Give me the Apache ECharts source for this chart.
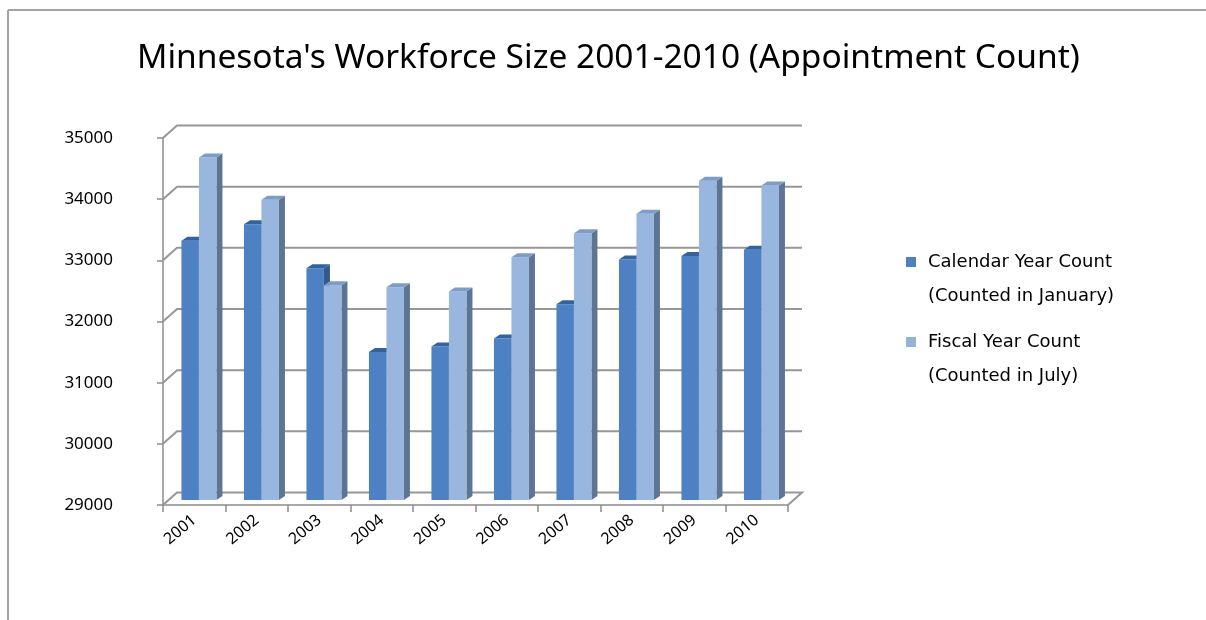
<!DOCTYPE html>
<html lang="en">
<head>
  <meta charset="UTF-8">
  <title>Minnesota's Workforce Size</title>
  <style>
    html, body { margin: 0; padding: 0; background: #fff; }
    #chart { width: 1206px; height: 620px; }
  </style>
</head>
<body>
  <div id="chart"></div>
  <script src="https://cdn.jsdelivr.net/npm/echarts@6/dist/echarts.min.js"></script>
  <script>
    var years = ['2001', '2002', '2003', '2004', '2005', '2006', '2007', '2008', '2009', '2010'];
    var calendarCounts = [33240, 33510, 32790, 31420, 31510, 31640, 32200, 32930, 32990, 33090];
    var fiscalCounts = [34600, 33910, 32510, 32480, 32410, 32970, 33360, 33680, 34220, 34140];
    var yTicks = [29000, 30000, 31000, 32000, 33000, 34000, 35000];

    var calName = 'Calendar Year Count\n(Counted in January)';
    var fisName = 'Fiscal Year Count\n(Counted in July)';
    var font = 'Noto Sans';

    var yMin = 29000;
    // wall offset (back wall vs front axis) and bar depth
    var wallDx = 14, wallDy = -12.5;
    var barDx = 6, barDy = -4, lift = 5;

    function wallItem(params, api) {
      var cs = params.coordSys;
      var v = api.value(1);
      var y = api.coord([0, v])[1];
      var xL = cs.x, xR = cs.x + cs.width;
      var pts = [[xL, y], [xL + wallDx, y + wallDy], [xR + wallDx, y + wallDy]];
      if (v === yMin) pts.push([xR, y]);
      return {
        type: 'polyline',
        shape: { points: pts },
        style: { stroke: '#979797', lineWidth: 2, fill: null }
      };
    }

    function makeBar(slot, front, side, topc) {
      return function (params, api) {
        var cat = api.value(0), v = api.value(1);
        var pTop = api.coord([cat, v]);
        var pBase = api.coord([cat, yMin]);
        var band = api.size([1, 0])[0];
        var w = band * 0.28;
        var x0 = pTop[0] - band * 0.205 + slot * w;
        var yT = pTop[1] - lift, yB = pBase[1] - lift;
        return {
          type: 'group',
          children: [
            { type: 'polygon', shape: { points: [[x0 + w, yT], [x0 + w + barDx, yT + barDy], [x0 + w + barDx, yB + barDy], [x0 + w, yB]] }, style: { fill: side } },
            { type: 'rect', shape: { x: x0, y: yT, width: w, height: yB - yT }, style: { fill: front } },
            { type: 'polygon', shape: { points: [[x0, yT], [x0 + barDx, yT + barDy], [x0 + w + barDx, yT + barDy], [x0 + w, yT]] }, style: { fill: topc } }
          ]
        };
      };
    }

    // icon should sit on the first text line, so push the two lines down with an empty line
    function legendCfg(name, top) {
      return {
        data: [name],
        orient: 'vertical',
        left: 901,
        top: top,
        icon: 'rect',
        itemWidth: 10,
        itemHeight: 10,
        formatter: function (n) { return '\n' + n; },
        textStyle: {
          fontFamily: 'DejaVu Sans',
          fontSize: 18,
          color: '#000',
          lineHeight: 34,
          padding: [0, 0, 0, 7]
        }
      };
    }

    var myChart = echarts.init(document.getElementById('chart'));
    var option = {
      animation: false,
      backgroundColor: '#fff',
      title: {
        text: "Minnesota's Workforce Size 2001-2010 (Appointment Count)",
        left: 132,
        top: 36,
        textStyle: { fontFamily: font, fontSize: 33.5, fontWeight: 'normal', color: '#000' }
      },
      legend: [legendCfg(calName, 206), legendCfg(fisName, 286)],
      grid: { left: 163, right: 418, top: 138, bottom: 115 },
      xAxis: {
        type: 'category',
        data: years,
        axisLine: { lineStyle: { color: '#8c8c8c', width: 1.5 } },
        axisTick: { show: true, length: 7, lineStyle: { color: '#8c8c8c', width: 1.5 } },
        axisLabel: { rotate: 40, margin: 13, fontFamily: font, fontSize: 16, color: '#000' }
      },
      yAxis: {
        type: 'value',
        min: 29000,
        max: 35000,
        interval: 1000,
        splitLine: { show: false },
        axisLine: { show: true, lineStyle: { color: '#8c8c8c', width: 1.5 } },
        axisTick: { show: true, length: 6, lineStyle: { color: '#8c8c8c', width: 1.5 } },
        axisLabel: {
          margin: 50, fontFamily: font, fontSize: 17, color: '#000',
          formatter: function (v) { return String(v); }
        }
      },
      graphic: [
        { type: 'line', shape: { x1: 8, y1: 10, x2: 1206, y2: 10 }, style: { stroke: '#a3a3a3', lineWidth: 2 } },
        { type: 'line', shape: { x1: 8, y1: 10, x2: 8, y2: 620 }, style: { stroke: '#a3a3a3', lineWidth: 2 } }
      ],
      series: [
        {
          type: 'custom',
          name: 'walls',
          silent: true,
          renderItem: wallItem,
          data: yTicks.map(function (v) { return [0, v]; })
        },
        {
          type: 'custom',
          name: calName,
          itemStyle: { color: '#4F81BD' },
          renderItem: makeBar(0, '#4E81C3', '#35598a', '#33629f'),
          data: years.map(function (y, i) { return [i, calendarCounts[i]]; })
        },
        {
          type: 'custom',
          name: fisName,
          itemStyle: { color: '#95B3D7' },
          renderItem: makeBar(1, '#98B6DE', '#5d7492', '#7d9cc8'),
          data: years.map(function (y, i) { return [i, fiscalCounts[i]]; })
        }
      ]
    };
    myChart.setOption(option);
  </script>
</body>
</html>
